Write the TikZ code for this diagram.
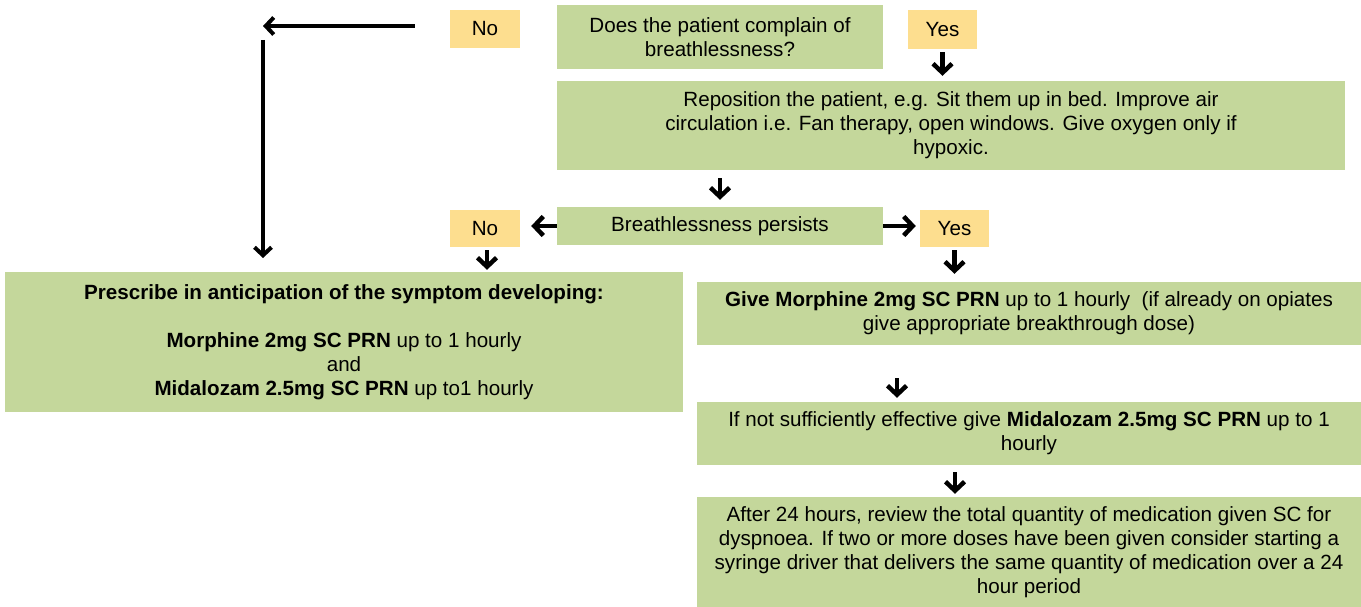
\documentclass[tikz,border=0pt]{standalone}
\usepackage{fontspec}
\setmainfont{Liberation Sans}
\usetikzlibrary{arrows.meta}
\definecolor{boxgreen}{HTML}{C4D79B}
\definecolor{boxyellow}{HTML}{FDDE8F}
\begin{document}
\begin{tikzpicture}[x=1pt,y=-1pt,
  box/.style={fill=boxgreen, draw=none, inner sep=0pt, align=center,
    font=\fontsize{20.6}{24}\selectfont},
  yn/.style={fill=boxyellow, draw=none, inner sep=0pt, align=center,
    font=\fontsize{20.6}{24}\selectfont},
  arr/.style={line width=4.5pt, -{Straight Barb[length=9pt,width=19pt,line width=4.5pt]}},
  longarr/.style={line width=4pt, -{Straight Barb[length=8pt,width=17pt,line width=4pt]}}]
\useasboundingbox (0,0) rectangle (1361,607);
% nodes
\node[box, minimum width=326, minimum height=64] (q1) at (720,37) {Does the patient complain of\\breathlessness?};
\node[yn, minimum width=69, minimum height=39] (yes1) at (942.5,29.5) {Yes};
\node[yn, minimum width=70, minimum height=38] (no1) at (485,29) {No};
\node[box, minimum width=788, minimum height=89] (b2) at (951,125.5) {Reposition the patient, e.g. Sit them up in bed. Improve air\\circulation i.e. Fan therapy, open windows. Give oxygen only if\\hypoxic.};
\node[box, minimum width=326, minimum height=38] (b3) at (720,226) {Breathlessness persists};
\node[yn, minimum width=70, minimum height=37] (no2) at (485,228.5) {No};
\node[yn, minimum width=69, minimum height=37] (yes2) at (954.5,228.5) {Yes};
\node[box, minimum width=678, minimum height=140] (b4) at (344,342) {\textbf{Prescribe in anticipation of the symptom developing:}\\~\\\textbf{Morphine 2mg SC PRN} up to 1 hourly\\and\\\textbf{Midalozam 2.5mg SC PRN} up to1 hourly};
\node[box, minimum width=664, minimum height=63] (b5) at (1029,313.5) {\textbf{Give Morphine 2mg SC PRN} up to 1 hourly\ \ (if already on opiates\\give appropriate breakthrough dose)};
\node[box, minimum width=664, minimum height=63] (b6) at (1029,433.5) {If not sufficiently effective give \textbf{Midalozam 2.5mg SC PRN} up to 1\\hourly};
\node[box, minimum width=664, minimum height=110] (b7) at (1029,552) {After 24 hours, review the total quantity of medication given SC for\\dyspnoea. If two or more doses have been given consider starting a\\syringe driver that delivers the same quantity of medication over a 24\\hour period};
% coordinates
\coordinate (c1) at (263,26);
\coordinate (c2) at (263,40);
\coordinate (c3) at (263,258);
% connectors
\draw[longarr] ([xshift=-35pt]no1.west |- c1) -- (c1);
\draw[longarr] (c2) -- (c3);
\draw[arr] ([yshift=-3pt]yes1.south) -- ([yshift=5pt]b2.north -| yes1.south);
\draw[arr] ([yshift=-8pt]b2.south -| b3.north) -- ([yshift=7pt]b3.north);
\draw[arr] (b3.west) -- ([xshift=11pt]no2.east |- b3.west);
\draw[arr] (b3.east) -- ([xshift=-4pt]yes2.west |- b3.east);
\draw[arr] ([yshift=-3pt]no2.south -| 487,0) -- ([yshift=2pt]b4.north -| 487,0);
\draw[arr] ([yshift=-3pt]yes2.south) -- ([yshift=8pt]b5.north -| yes2.south);
\draw[arr] ([yshift=-33pt]b5.south -| 897,0) -- ([yshift=4pt]b6.north -| 897,0);
\draw[arr] ([yshift=-7pt]b6.south -| 955,0) -- ([yshift=3pt]b7.north -| 955,0);
\end{tikzpicture}
\end{document}
